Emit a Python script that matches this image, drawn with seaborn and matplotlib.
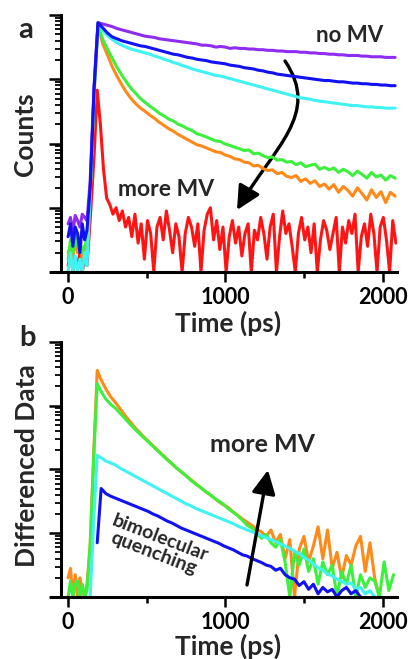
import numpy as np
import pandas as pd
import matplotlib
matplotlib.use("Agg")
import matplotlib.pyplot as plt
import seaborn as sns
from matplotlib.patches import FancyArrowPatch
from matplotlib.path import Path
from matplotlib.ticker import FixedLocator, LogLocator, NullFormatter

nan = float("nan")

# ---------------- data (log10 of counts) ----------------
# panel a: time grid in ps
t_a = [0, 15, 30, 45, 60, 75, 90, 105, 120, 140, 165, 190] + list(range(220, 2090, 30))

a_purple = [0.75, 0.85, 0.62, 0.88, 0.80, 0.70, 0.90, 0.85, 0.80, 1.40, 2.90, 3.88,
            3.86, 3.84, 3.82, 3.79, 3.77, 3.75, 3.73, 3.71, 3.69, 3.67,
            3.66, 3.65, 3.63, 3.62, 3.61, 3.60, 3.59, 3.58, 3.57, 3.56,
            3.55, 3.53, 3.53, 3.52, 3.50, 3.51, 3.50, 3.48, 3.49, 3.48,
            3.48, 3.47, 3.47, 3.46, 3.46, 3.45, 3.45, 3.44, 3.44, 3.43,
            3.43, 3.43, 3.42, 3.42, 3.41, 3.41, 3.40, 3.40, 3.39, 3.39,
            3.38, 3.38, 3.37, 3.37, 3.37, 3.36, 3.36, 3.35, 3.35, 3.35,
            3.34, 3.34, 3.34]
a_blue = [0.55, 0.75, 0.40, 0.70, 0.60, 0.30, 0.75, 0.50, 0.65, 1.30, 2.85, 3.88,
          3.80, 3.72, 3.66, 3.63, 3.60, 3.58, 3.56, 3.54, 3.52, 3.51,
          3.49, 3.47, 3.45, 3.43, 3.41, 3.39, 3.38, 3.36, 3.34, 3.33,
          3.31, 3.30, 3.29, 3.27, 3.26, 3.25, 3.24, 3.22, 3.21, 3.20,
          3.18, 3.17, 3.16, 3.14, 3.13, 3.11, 3.10, 3.08, 3.07, 3.06,
          3.05, 3.04, 3.03, 3.02, 3.01, 3.00, 2.99, 2.98, 2.98, 2.97,
          2.96, 2.96, 2.95, 2.94, 2.94, 2.93, 2.93, 2.92, 2.92, 2.91,
          2.91, 2.90, 2.90]
a_cyan = [0.00, 0.30, 0.00, 0.25, 0.00, 0.20, 0.00, 0.30, 0.10, 1.20, 2.80, 3.87,
          3.76, 3.68, 3.62, 3.57, 3.53, 3.50, 3.47, 3.45, 3.43, 3.41,
          3.39, 3.36, 3.34, 3.31, 3.29, 3.26, 3.24, 3.21, 3.19, 3.16,
          3.14, 3.12, 3.10, 3.08, 3.06, 3.05, 3.03, 3.01, 2.99, 2.97,
          2.95, 2.93, 2.91, 2.89, 2.87, 2.85, 2.83, 2.81, 2.79, 2.77,
          2.75, 2.73, 2.71, 2.70, 2.69, 2.67, 2.66, 2.65, 2.64, 2.63,
          2.62, 2.61, 2.60, 2.59, 2.59, 2.58, 2.57, 2.57, 2.56, 2.56,
          2.55, 2.55, 2.55]
a_green = [0.20, 0.50, 0.30, 0.60, 0.40, 0.50, 0.30, 0.40, 0.50, 1.25, 2.80, 3.85,
           3.62, 3.47, 3.33, 3.19, 3.07, 2.96, 2.86, 2.78, 2.70, 2.64,
           2.58, 2.53, 2.47, 2.43, 2.38, 2.35, 2.30, 2.27, 2.23, 2.20,
           2.15, 2.13, 2.10, 2.07, 2.04, 2.03, 1.99, 1.97, 1.94, 1.92,
           1.89, 1.90, 1.84, 1.85, 1.81, 1.78, 1.79, 1.74, 1.75, 1.71,
           1.72, 1.67, 1.70, 1.64, 1.66, 1.68, 1.60, 1.63, 1.59, 1.62,
           1.55, 1.60, 1.56, 1.50, 1.57, 1.52, 1.46, 1.55, 1.48, 1.51,
           1.43, 1.50, 1.46]
a_orange = [0.30, 0.40, 0.20, 0.50, 0.30, 0.45, 0.20, 0.35, 0.40, 1.20, 2.75, 3.84,
            3.55, 3.38, 3.20, 3.05, 2.92, 2.80, 2.70, 2.62, 2.55, 2.50,
            2.44, 2.39, 2.33, 2.28, 2.23, 2.19, 2.14, 2.10, 2.06, 2.02,
            1.98, 1.96, 1.93, 1.90, 1.87, 1.86, 1.82, 1.80, 1.76, 1.75,
            1.71, 1.70, 1.65, 1.66, 1.61, 1.58, 1.59, 1.53, 1.55, 1.49,
            1.47, 1.50, 1.41, 1.45, 1.38, 1.42, 1.33, 1.37, 1.29, 1.36,
            1.24, 1.33, 1.27, 1.18, 1.31, 1.22, 1.12, 1.28, 1.16, 1.25,
            1.08, 1.24, 1.18]

# red trace has its own, finer time grid
t_red = [0, 15, 30, 45, 60, 75, 90, 105, 120, 140, 165, 185] + list(range(205, 2090, 20))
a_red = [0.10, 0.30, 0.00, 0.20, 0.10, 0.30, 0.00, 0.20, 0.10, 0.80, 1.80, 2.83,
         2.30, 1.60, 1.15, 1.05, 0.90, 1.00, 0.80, 0.95, 0.70, 0.85,
         0.55, 0.90, 0.45, 0.75, 0.20, 0.80, 0.60, 0.00, 0.70, 0.85,
         0.50, 0.95, 0.65, 0.30, 0.75, 0.55, 0.00, 0.60, 0.85, 0.70,
         0.40, 0.75, 0.00, 0.65, 0.90, 1.00, 0.50, 0.80, 0.35, 0.70,
         0.00, 0.55, 0.80, 0.45, 0.70, 0.25, 0.60, 0.75, 0.00, 0.65,
         0.50, 0.85, 0.60, 0.20, 0.70, 0.90, 0.00, 0.55, 0.95, 0.60,
         0.75, 0.40, 0.00, 0.60, 0.85, 0.50, 0.70, 0.30, 0.75, 0.00,
         0.50, 0.80, 0.65, 0.35, 0.60, 0.85, 0.00, 0.70, 0.45, 0.80,
         0.60, 0.90, 0.00, 0.55, 0.75, 0.40, 0.90, 0.60, 0.00, 0.70,
         0.85, 0.50, 0.00, 0.80, 0.45]

# panel b: time grid in ps
t_b = [0, 15, 30, 45, 60, 75, 90, 105, 120, 140, 165, 185] + list(range(210, 2090, 30))

b_orange = [0.30, 0.45, 0.00, 0.35, 0.00, 0.30, 0.10, 0.00, 0.20, 0.80, 2.40, 3.55,
            3.40, 3.26, 3.14, 3.05, 2.95, 2.85, 2.76, 2.67, 2.59, 2.51,
            2.44, 2.37, 2.30, 2.23, 2.16, 2.09, 2.02, 1.96, 1.90, 1.84,
            1.78, 1.72, 1.66, 1.61, 1.55, 1.49, 1.44, 1.40, 1.33, 1.28,
            1.22, 1.17, 1.12, 1.06, 1.02, 0.95, 1.05, 0.85, 0.98, 0.60,
            0.90, 0.00, 0.75, 0.95, 0.55, 0.80, 1.10, 0.60, 1.05, 0.45,
            0.70, 0.30, 0.65, 0.50, 0.80, 0.95, 0.40, 0.85, 0.30, 0.00]
b_green = [0.00, 0.25, 0.00, 0.20, 0.25, 0.00, 0.20, 0.00, 0.10, 0.80, 2.30, 3.34,
           3.22, 3.10, 3.02, 2.96, 2.88, 2.80, 2.72, 2.64, 2.57, 2.50,
           2.43, 2.36, 2.29, 2.22, 2.15, 2.09, 2.02, 1.96, 1.90, 1.83,
           1.77, 1.72, 1.66, 1.61, 1.55, 1.50, 1.45, 1.38, 1.33, 1.27,
           1.20, 1.12, 1.08, 1.00, 0.92, 0.98, 0.85, 0.78, 0.90, 0.55,
           0.00, 0.70, 0.50, 0.75, 0.40, 0.60, 0.20, 0.55, 0.35, 0.50,
           0.00, 0.40, 0.20, 0.50, 0.00, 0.35, 0.15, 0.30, 0.25, 0.00,
           0.55, 0.10, 0.35]
b_cyan = [nan, nan, nan, nan, nan, nan, nan, nan, nan, 0.00, 1.30, 2.22,
          2.18, 2.13, 2.10, 2.07, 2.02, 1.98, 1.94, 1.90, 1.86, 1.82,
          1.78, 1.74, 1.70, 1.66, 1.62, 1.58, 1.54, 1.50, 1.46, 1.43,
          1.39, 1.36, 1.33, 1.30, 1.27, 1.24, 1.21, 1.18, 1.15, 1.11,
          1.08, 1.05, 1.02, 0.99, 0.96, 0.93, 0.90, 0.87, 0.83, 0.80,
          0.76, 0.72, 0.68, 0.62, 0.58, 0.52, 0.46, 0.42, 0.36, 0.33,
          0.28, 0.25, 0.20, 0.22, 0.12, 0.15, 0.05, 0.10, 0.00]
b_blue = [nan, nan, nan, nan, nan, nan, nan, nan, nan, nan, nan, 0.85,
          1.70, 1.62, 1.58, 1.55, 1.52, 1.49, 1.46, 1.43, 1.40, 1.37,
          1.34, 1.30, 1.27, 1.23, 1.19, 1.16, 1.12, 1.08, 1.05, 1.02,
          0.99, 0.96, 0.93, 0.90, 0.87, 0.84, 0.80, 0.77, 0.74, 0.70,
          0.66, 0.64, 0.60, 0.57, 0.54, 0.50, 0.48, 0.42, 0.45, 0.35,
          0.30, 0.28, 0.18, 0.24, 0.12, 0.20, 0.05, 0.15, 0.08, 0.12,
          0.00, 0.10, 0.15, 0.05, 0.10, 0.00]

x_ticks = [0, 1000, 2000]
x_tick_labels = ["0", "1000", "2000"]
x_minor = [500, 1500]

colors = {"purple": "#8E2CF0", "blue": "#1212F0", "cyan": "#40F2F2",
          "green": "#3CF03C", "orange": "#FF8A1A", "red": "#FF1414"}

# ---------------- figure ----------------
sns.set_theme(style="ticks")
plt.rcParams["font.family"] = ["Lato", "DejaVu Sans"]
plt.rcParams["font.weight"] = "bold"

W, H = 411, 659
fig = plt.figure(figsize=(W / 100, H / 100), dpi=100)
fig.patch.set_facecolor("white")

def fx(px):
    return px / W

def fy(py):
    return 1 - py / H

ax_a = fig.add_axes([fx(51), fy(272), (397 - 51) / W, (272 - 15) / H])
ax_b = fig.add_axes([fx(51), fy(597), (397 - 51) / W, (597 - 341.7) / H])

LW = 2.2
series_a = [("red", t_red, a_red), ("orange", t_a, a_orange), ("green", t_a, a_green),
            ("cyan", t_a, a_cyan), ("purple", t_a, a_purple), ("blue", t_a, a_blue)]
for name, tt, vals in series_a:
    df = pd.DataFrame({"t": tt[:len(vals)], "y": np.power(10.0, np.array(vals))})
    sns.lineplot(data=df, x="t", y="y", ax=ax_a, color=colors[name], lw=LW,
                 estimator=None, sort=False)

for name, vals in [("orange", b_orange), ("green", b_green),
                   ("cyan", b_cyan), ("blue", b_blue)]:
    df = pd.DataFrame({"t": t_b[:len(vals)], "y": np.power(10.0, np.array(vals))}).dropna()
    sns.lineplot(data=df, x="t", y="y", ax=ax_b, color=colors[name], lw=LW,
                 estimator=None, sort=False)

for ax in (ax_a, ax_b):
    ax.set_facecolor("white")
    ax.set_yscale("log")
    ax.set_ylim(1, 1e4)
    ax.set_xlim(-109, 2092)
    ax.spines["top"].set_visible(False)
    ax.spines["right"].set_visible(False)
    ax.spines["left"].set_position(("data", -46))
    for s in ("left", "bottom"):
        ax.spines[s].set_linewidth(2.2)
        ax.spines[s].set_color("black")
    ax.xaxis.set_major_locator(FixedLocator(x_ticks))
    ax.xaxis.set_minor_locator(FixedLocator(x_minor))
    ax.set_xticklabels(x_tick_labels)
    ax.yaxis.set_major_locator(LogLocator(base=10, numticks=10))
    ax.yaxis.set_minor_locator(LogLocator(base=10, subs=np.arange(2, 10), numticks=20))
    ax.yaxis.set_major_formatter(NullFormatter())
    ax.yaxis.set_minor_formatter(NullFormatter())
    ax.tick_params(axis="y", which="major", length=8.5, width=1.8, direction="out", color="black")
    ax.tick_params(axis="y", which="minor", length=4.5, width=1.3, direction="out", color="black")
    ax.tick_params(axis="x", which="major", length=7, width=1.8, direction="out",
                   pad=4, labelsize=15.5, color="black", labelcolor="black")
    ax.tick_params(axis="x", which="minor", length=4, width=1.8, direction="out", color="black")
    for lab in ax.get_xticklabels():
        lab.set_fontweight("bold")
    ax.set_xlabel("")
    ax.set_ylabel("")
    ax.grid(False)

# axis titles and panel letters
fig.text(fx(228), fy(323), "Time (ps)", ha="center", va="center", fontsize=19, fontweight="bold")
fig.text(fx(228), fy(646), "Time (ps)", ha="center", va="center", fontsize=19, fontweight="bold")
fig.text(fx(25), fy(134), "Counts", ha="center", va="center", rotation=90, fontsize=19, fontweight="bold")
fig.text(fx(27), fy(466), "Differenced Data", ha="center", va="center", rotation=90, fontsize=19, fontweight="bold")
fig.text(fx(26), fy(30), "a", ha="center", va="center", fontsize=21, fontweight="bold")
fig.text(fx(27), fy(338), "b", ha="center", va="center", fontsize=21, fontweight="bold")

# annotations
fig.text(fx(350), fy(36), "no MV", ha="center", va="center", fontsize=16, fontweight="bold")
fig.text(fx(166), fy(189), "more MV", ha="center", va="center", fontsize=16.5, fontweight="bold")
fig.text(fx(262), fy(444), "more MV", ha="center", va="center", fontsize=18, fontweight="bold")
fig.text(fx(157), fy(546), "bimolecular\nquenching", ha="center", va="center", rotation=-21,
         rotation_mode="anchor", linespacing=0.95, fontsize=14, fontweight="bold")

# arrows (axes-fraction coordinates)
def axa(px, py):
    return ((px - 51) / 346, (272 - py) / 257)

def axb(px, py):
    return ((px - 51) / 346, (597 - py) / 255.3)

verts = [axa(285, 61), axa(321, 114), axa(274, 147), axa(237, 210)]
codes = [Path.MOVETO, Path.CURVE4, Path.CURVE4, Path.CURVE4]
arrow_a = FancyArrowPatch(path=Path(verts, codes), arrowstyle="-|>,head_length=0.9,head_width=0.45",
                          mutation_scale=16, lw=2.4, color="black", transform=ax_a.transAxes,
                          clip_on=False)
ax_a.add_patch(arrow_a)

ax_b.annotate("", xy=axb(268, 470), xytext=axb(247, 585), xycoords="axes fraction",
              textcoords="axes fraction",
              arrowprops=dict(arrowstyle="-|>,head_length=0.9,head_width=0.45",
                              mutation_scale=16, lw=2.4, color="black",
                              shrinkA=0, shrinkB=0))

fig.savefig("out.png", dpi=100, facecolor="white")
